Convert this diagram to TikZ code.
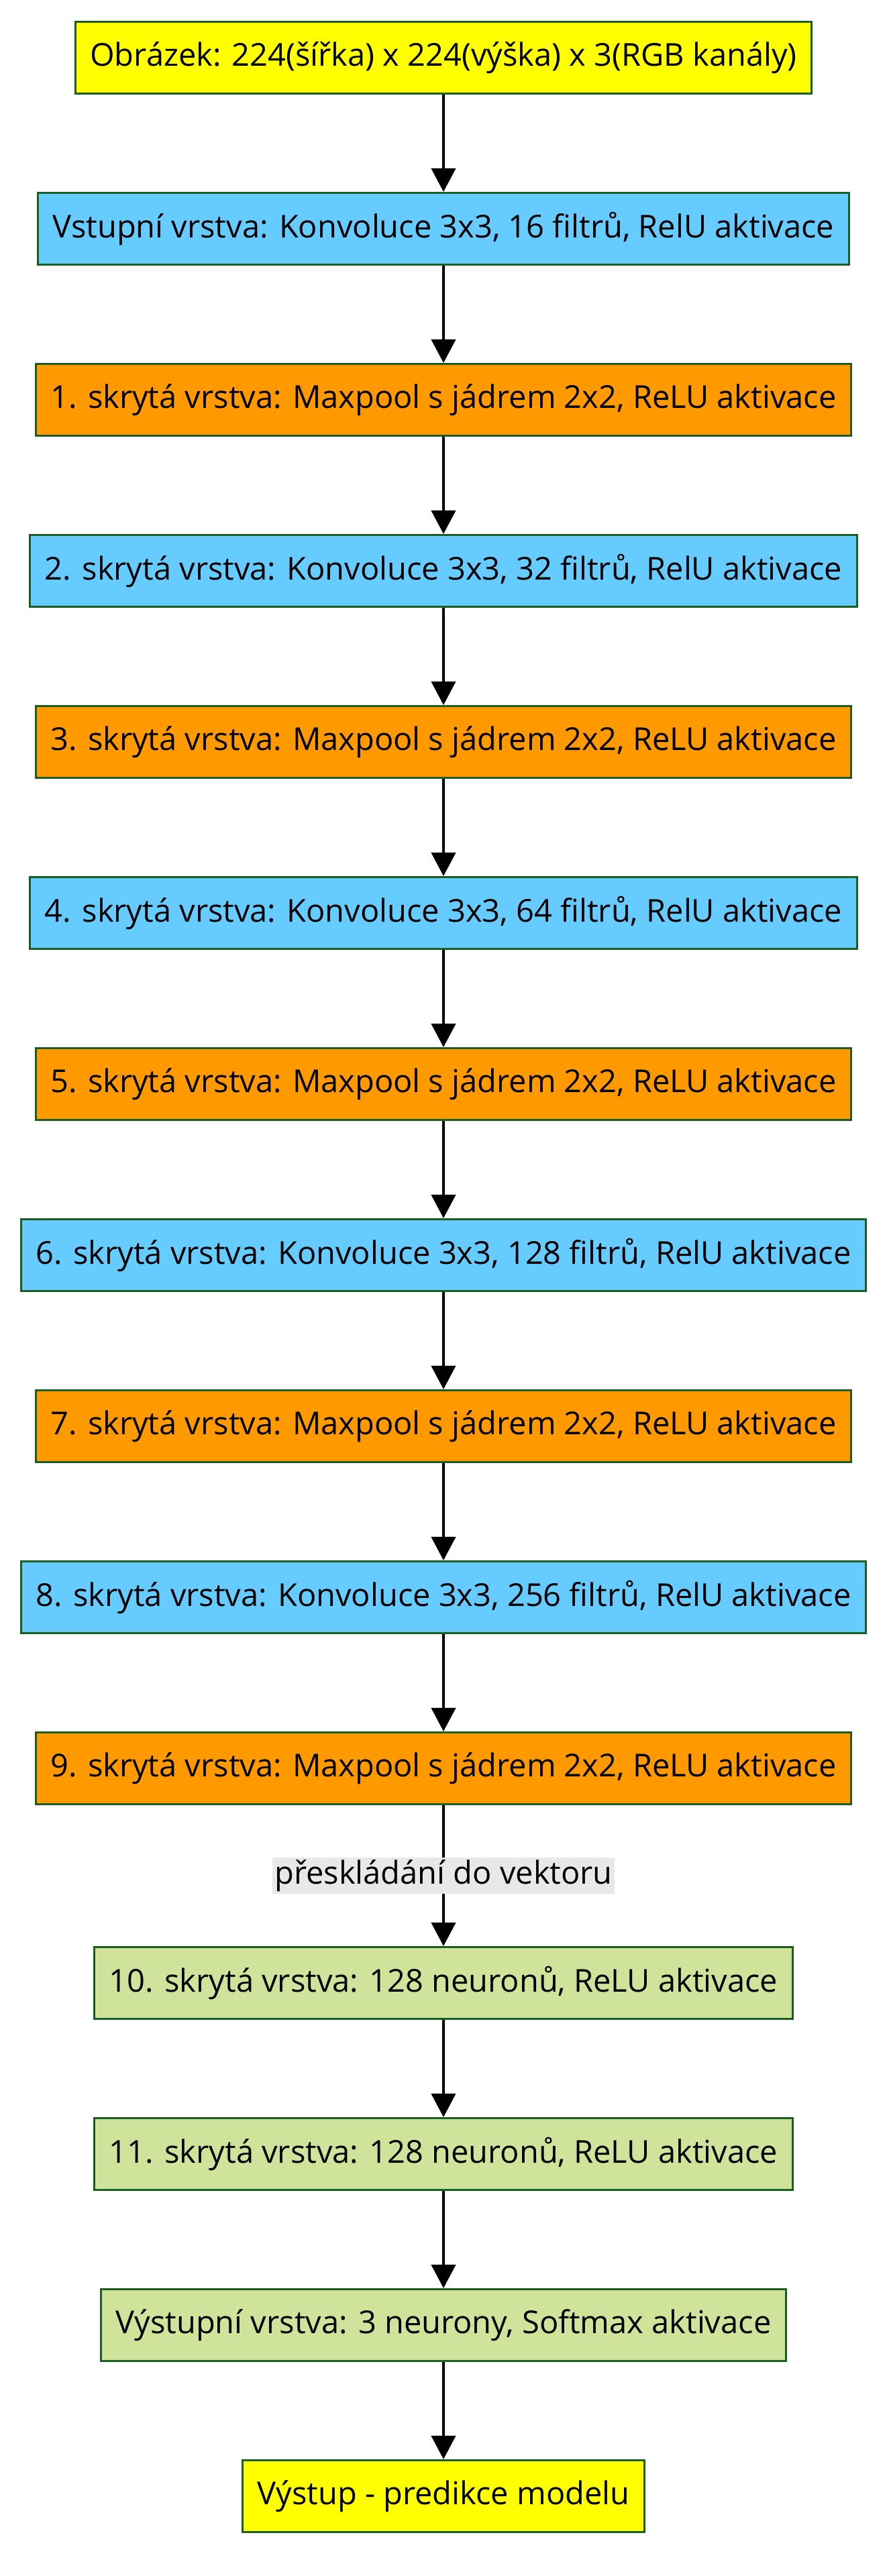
\documentclass[tikz,border=0pt]{standalone}
\usepackage{fontspec}
\setmainfont{Open Sans}
\usepackage{xcolor}
\usepackage{tikz}
\usetikzlibrary{arrows.meta}
\usetikzlibrary{positioning}

\definecolor{boxline}{HTML}{1B5E20}
\definecolor{ioyellow}{HTML}{FFFF00}
\definecolor{convblue}{HTML}{66CCFF}
\definecolor{poolorange}{HTML}{FF9900}
\definecolor{densegreen}{HTML}{CFE39B}
\definecolor{labelgray}{HTML}{E8E8E8}

\begin{document}
\begin{tikzpicture}[node distance=72.5pt, auto]

\tikzstyle{every node} = [font=\fontsize{23.5}{28}\selectfont]
\tikzstyle{layer} = [rectangle, draw=boxline, line width=1.5pt, minimum height=53.5pt, inner xsep=11pt]
\tikzstyle{io} = [layer, fill=ioyellow]
\tikzstyle{conv} = [layer, fill=convblue]
\tikzstyle{pool} = [layer, fill=poolorange]
\tikzstyle{dense} = [layer, fill=densegreen]
\tikzstyle{flow} = [draw, line width=2pt, -{Triangle[length=17.5pt, width=18pt]}]

\useasboundingbox (0,0) rectangle (662pt,1920pt);

\node[io] (1) at (330.5pt,1877pt) {Obrázek: 224(šířka) x 224(výška) x 3(RGB kanály)};
\node[conv] (2) [below=of 1] {Vstupní vrstva: Konvoluce 3x3, 16 filtrů, RelU aktivace};
\node[pool] (3) [below=of 2] {1. skrytá vrstva: Maxpool s jádrem 2x2, ReLU aktivace};
\node[conv] (4) [below=of 3] {2. skrytá vrstva: Konvoluce 3x3, 32 filtrů, RelU aktivace};
\node[pool] (5) [below=of 4] {3. skrytá vrstva: Maxpool s jádrem 2x2, ReLU aktivace};
\node[conv] (6) [below=of 5] {4. skrytá vrstva: Konvoluce 3x3, 64 filtrů, RelU aktivace};
\node[pool] (7) [below=of 6] {5. skrytá vrstva: Maxpool s jádrem 2x2, ReLU aktivace};
\node[conv] (8) [below=of 7] {6. skrytá vrstva: Konvoluce 3x3, 128 filtrů, RelU aktivace};
\node[pool] (9) [below=of 8] {7. skrytá vrstva: Maxpool s jádrem 2x2, ReLU aktivace};
\node[conv] (10) [below=of 9] {8. skrytá vrstva: Konvoluce 3x3, 256 filtrů, RelU aktivace};
\node[pool] (11) [below=of 10] {9. skrytá vrstva: Maxpool s jádrem 2x2, ReLU aktivace};

\node[dense] (12) [below=105pt of 11] {10. skrytá vrstva: 128 neuronů, ReLU aktivace};
\node[dense] (13) [below=of 12] {11. skrytá vrstva: 128 neuronů, ReLU aktivace};
\node[dense] (14) [below=of 13] {Výstupní vrstva: 3 neurony, Softmax aktivace};
\node[io] (15) [below=of 14] {Výstup - predikce modelu};

  \path[flow]
    (1) edge[flow] (2)
    (2) edge[flow] (3)
    (3) edge[flow] (4)
    (4) edge[flow] (5)
    (5) edge[flow] (6)
    (6) edge[flow] (7)
    (7) edge[flow] (8)
    (8) edge[flow] (9)
    (9) edge[flow] (10)
    (10) edge[flow] (11)
    (11) edge[flow] node[fill=labelgray, inner sep=1.5pt, midway, anchor=center] {přeskládání do vektoru} (12)
    (12) edge[flow] (13)
    (13) edge[flow] (14)
    (14) edge[flow] (15);
\end{tikzpicture}
\end{document}
